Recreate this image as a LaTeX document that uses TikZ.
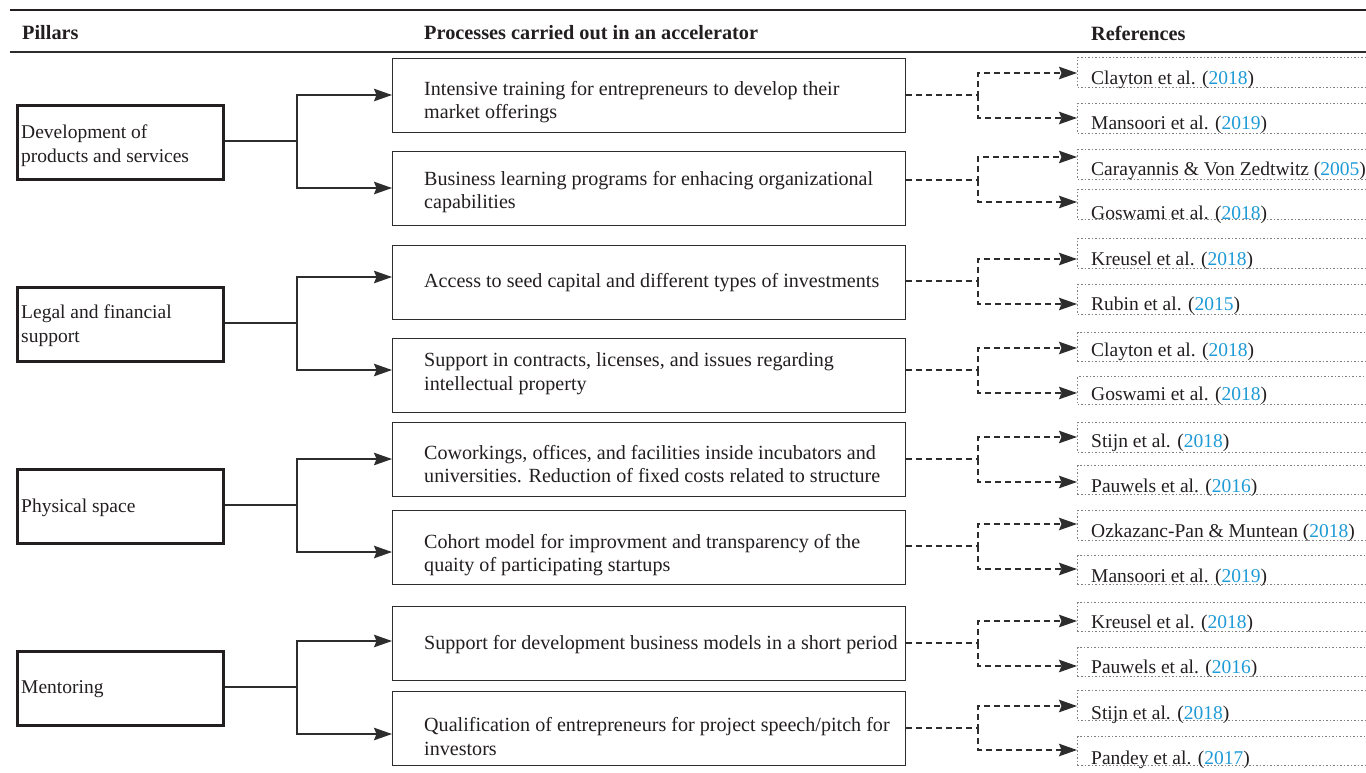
\documentclass[tikz,border=0pt]{standalone}
\usepackage{fontspec}
\setmainfont{Liberation Serif}
\usetikzlibrary{arrows.meta}
\definecolor{yrc}{RGB}{30,155,215}
\definecolor{ink}{RGB}{35,31,32}
\definecolor{edge}{RGB}{45,45,45}
\newcommand{\yr}[1]{\textcolor{yrc}{#1}}
\tikzset{
  tip/.style={-{Stealth[length=18pt,width=12.5pt,inset=2.5pt]}},
  pillar/.style={draw=ink, line width=2.6pt, minimum width=206pt, minimum height=74pt,
    anchor=north west, inner sep=0pt},
  pillartext/.style={anchor=west, align=left, inner sep=0pt, text=ink,
    font=\fontsize{19.5pt}{24pt}\selectfont},
  procbox/.style={draw=edge, line width=1.3pt, minimum width=513pt, minimum height=74pt,
    anchor=north west, inner sep=0pt},
  proctext/.style={anchor=west, align=left, inner sep=0pt, text=ink,
    font=\fontsize{20.1pt}{23.5pt}\selectfont},
  refbox/.style={draw=gray, line width=1.1pt, dash pattern=on 1.5pt off 2pt,
    minimum width=320pt, anchor=north west, inner sep=0pt},
  reftext/.style={anchor=west, inner sep=0pt, text=ink},
  head/.style={anchor=west, inner sep=0pt, font=\fontsize{20.3pt}{24pt}\selectfont\bfseries, text=ink},
  conn/.style={draw=edge, line width=1.3pt, tip},
  dconn/.style={draw=edge, line width=1.3pt, dash pattern=on 6pt off 4pt, tip},
}
\begin{document}
\begin{tikzpicture}[x=1pt,y=-1pt, font=\fontsize{19.5pt}{23.5pt}\selectfont]
\useasboundingbox (0,0) rectangle (1366,772);
\fill[white] (0,0) rectangle (1366,772);

% header
\draw[ink, line width=2.6pt] (10,10) -- (1370,10);
\draw[edge, line width=1.2pt] (10,52) -- (1370,52);
\node[head] (h1) at (22,33) {Pillars};
\node[head] (h2) at (424,33) {Processes carried out in an accelerator};
\node[head] (h3) at (1091,33) {References};

% pillars
\node[pillar] (p1) at (16,104) {};
\node[pillar] (p2) at (16,286) {};
\node[pillar] (p3) at (16,468) {};
\node[pillar] (p4) at (16,650) {};
\node[pillartext] (q1) at (21,146) {Development of\\products and services};
\node[pillartext] (q2) at (21,326) {Legal and financial\\support};
\node[pillartext] (q3) at (21,508) {Physical space};
\node[pillartext] (q4) at (21,689) {Mentoring};

% process boxes
\node[procbox] (pr1) at (392,58) {};
\node[procbox] (pr2) at (392,151) {};
\node[procbox] (pr3) at (392,245) {};
\node[procbox] (pr4) at (392,338) {};
\node[procbox] (pr5) at (392,422) {};
\node[procbox] (pr6) at (392,510) {};
\node[procbox] (pr7) at (392,606) {};
\node[procbox] (pr8) at (392,691) {};

\node[proctext] (pt1) at (424,102) {Intensive training for entrepreneurs to develop their\\market offerings};
\node[proctext] (pt2) at (424,192) {Business learning programs for enhacing organizational\\capabilities};
\node[proctext] (pt3) at (424,283) {Access to seed capital and different types of investments};
\node[proctext] (pt4) at (424,373.5) {Support in contracts, licenses, and issues regarding\\intellectual property};
\node[proctext] (pt5) at (424,464) {Coworkings, offices, and facilities inside incubators and\\universities. Reduction of fixed costs related to structure};
\node[proctext] (pt6) at (424,555) {Cohort model for improvment and transparency of the\\quaity of participating startups};
\node[proctext] (pt7) at (424,645) {Support for development business models in a short period};
\node[proctext] (pt8) at (424,736.5) {Qualification of entrepreneurs for project speech/pitch for\\investors};

% reference boxes and texts
\foreach \i/\t/\h/\ty/\txt in {
  1/57/30/80/{Clayton et al. (\yr{2018})},
  2/103/30/125/{Mansoori et al. (\yr{2019})},
  3/149/30/171/{Carayannis \& Von Zedtwitz (\yr{2005})},
  4/189/30/215/{Goswami et al. (\yr{2018})},
  5/238/30/261/{Kreusel et al. (\yr{2018})},
  6/284/30/306/{Rubin et al. (\yr{2015})},
  7/332/29/352/{Clayton et al. (\yr{2018})},
  8/376/28/396/{Goswami et al. (\yr{2018})},
  9/422/30/443/{Stijn et al. (\yr{2018})},
  10/465/29/488/{Pauwels et al. (\yr{2016})},
  11/510/30/533/{Ozkazanc-Pan \& Muntean (\yr{2018})},
  12/555/29/578/{Mansoori et al. (\yr{2019})},
  13/602/29/624/{Kreusel et al. (\yr{2018})},
  14/647/29/669/{Pauwels et al. (\yr{2016})},
  15/690/30/715/{Stijn et al. (\yr{2018})},
  16/736/29/760/{Pandey et al. (\yr{2017})}} {
  \node[refbox, minimum height=\h pt] (r\i) at (1077,\t) {};
  \node[reftext] (rt\i) at (1091,\ty) {\txt};
}

% pillar connectors
\foreach \p/\c/\a/\ya/\b/\yb in {1/141/1/95/2/188, 2/323/3/277/4/370,
    3/505/5/459/6/552, 4/687/7/641/8/734} {
  \coordinate (j\p) at (297,\c);
  \draw[conn] (p\p.east |- j\p) -- (j\p) |- (pr\a.west |- 0,\ya);
  \draw[conn] (j\p) |- (pr\b.west |- 0,\yb);
}

% dashed connectors
\foreach \k/\m/\a/\ya/\b/\yb in {1/95/1/73/2/118, 2/180/3/157/4/202,
    3/281/5/259/6/304, 4/370/7/348/8/393, 5/459/9/437/10/482,
    6/546/11/524/12/569, 7/643/13/621/14/666, 8/728/15/706/16/750} {
  \coordinate (d\k) at (978,\m);
  \draw[dconn] (pr\k.east |- d\k) -- (d\k) |- (r\a.west |- 0,\ya);
  \draw[dconn] (d\k) |- (r\b.west |- 0,\yb);
}
\end{tikzpicture}
\end{document}
